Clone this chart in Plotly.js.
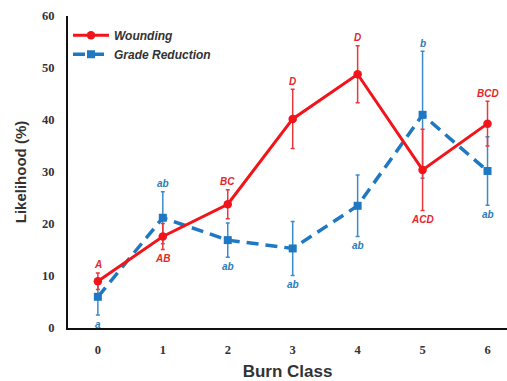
<!DOCTYPE html>
<html><head><meta charset="utf-8">
<script src="https://cdn.plot.ly/plotly-3.0.1.min.js"></script>
<style>html,body{margin:0;padding:0;background:#fff}#c{width:507px;height:381px}</style>
</head><body><div id="c"></div>
<script>
var burnClass = [0, 1, 2, 3, 4, 5, 6];
var wounding = [9.0, 17.6, 23.8, 40.2, 48.8, 30.4, 39.3];
var woundingErr = [1.6, 2.5, 2.8, 5.7, 5.5, 7.8, 4.3];
var woundingLetters = ['A', 'AB', 'BC', 'D', 'D', 'ACD', 'BCD'];
var woundingAbove = [true, false, true, true, true, false, true];
var grade = [6.0, 21.2, 16.9, 15.3, 23.5, 41.0, 30.2];
var gradeErr = [3.5, 5.0, 3.3, 5.2, 5.9, 12.2, 6.6];
var gradeLetters = ['a', 'ab', 'ab', 'ab', 'ab', 'b', 'ab'];
var gradeAbove = [false, true, false, false, false, true, false];

var RED = '#f2141b', BLUE = '#1f78c1';
var RED_T = '#e3262b', BLUE_T = '#2a7cba';

var traces = [
  {x: burnClass, y: grade, name: 'Grade Reduction', type: 'scatter', mode: 'lines+markers',
   line: {color: BLUE, width: 3.5, dash: '12px,7px'}, marker: {symbol: 'square', size: 8, color: BLUE},
   error_y: {type: 'data', array: gradeErr, visible: true, color: '#3d8bc9', thickness: 1.5, width: 2}},
  {x: burnClass, y: wounding, name: 'Wounding', type: 'scatter', mode: 'lines+markers',
   line: {color: RED, width: 3}, marker: {symbol: 'circle', size: 8.5, color: RED},
   error_y: {type: 'data', array: woundingErr, visible: true, color: '#e8383c', thickness: 1.5, width: 2}}
];

var ann = [];
function addLetters(vals, errs, letters, above, color) {
  for (var i = 0; i < vals.length; i++) {
    ann.push({x: burnClass[i], y: above[i] ? vals[i] + errs[i] : vals[i] - errs[i],
      text: '<b><i>' + letters[i] + '</i></b>', showarrow: false,
      yshift: above[i] ? 8 : -9, font: {family: 'Liberation Sans', size: 10, color: color}});
  }
}
addLetters(wounding, woundingErr, woundingLetters, woundingAbove, RED_T);
addLetters(grade, gradeErr, gradeLetters, gradeAbove, BLUE_T);

var layout = {
  width: 507, height: 381,
  margin: {l: 68, r: 0, t: 16, b: 53},
  paper_bgcolor: '#fff', plot_bgcolor: '#fff',
  showlegend: true,
  legend: {x: 0.0, y: 0.985, xanchor: 'left', yanchor: 'top', traceorder: 'reversed',
    font: {family: 'Liberation Sans', size: 12, color: '#333'}, bgcolor: 'rgba(0,0,0,0)',
    itemwidth: 36, tracegroupgap: 0},
  xaxis: {range: [-0.46, 6.3], tickvals: burnClass, ticktext: burnClass.map(function(v){return '<b>'+v+'</b>';}),
    showgrid: false, zeroline: false, showline: true, linecolor: '#111', linewidth: 2,
    ticks: '', ticklabelstandoff: 9,
    tickfont: {family: 'Liberation Sans Narrow', size: 12.5, color: '#333'},
    title: {text: '<b>Burn Class</b>', font: {family: 'Liberation Sans', size: 17, color: '#333'}, standoff: 9}},
  yaxis: {range: [0, 60], dtick: 10, showgrid: false, zeroline: false, showline: true, linecolor: '#111', linewidth: 2,
    ticks: '', ticklabelstandoff: 9, tickprefix: '<b>', ticksuffix: '</b>',
    tickfont: {family: 'Liberation Sans Narrow', size: 12.5, color: '#333'},
    title: {text: '<b>Likelihood (%)</b>', font: {family: 'Liberation Sans', size: 15, color: '#333'}, standoff: 12}},
  annotations: ann
};
layout.legend.font.style = 'italic';
layout.legend.font.weight = 'bold';
Plotly.newPlot('c', traces, layout, {displayModeBar: false, staticPlot: true});
</script></body></html>
